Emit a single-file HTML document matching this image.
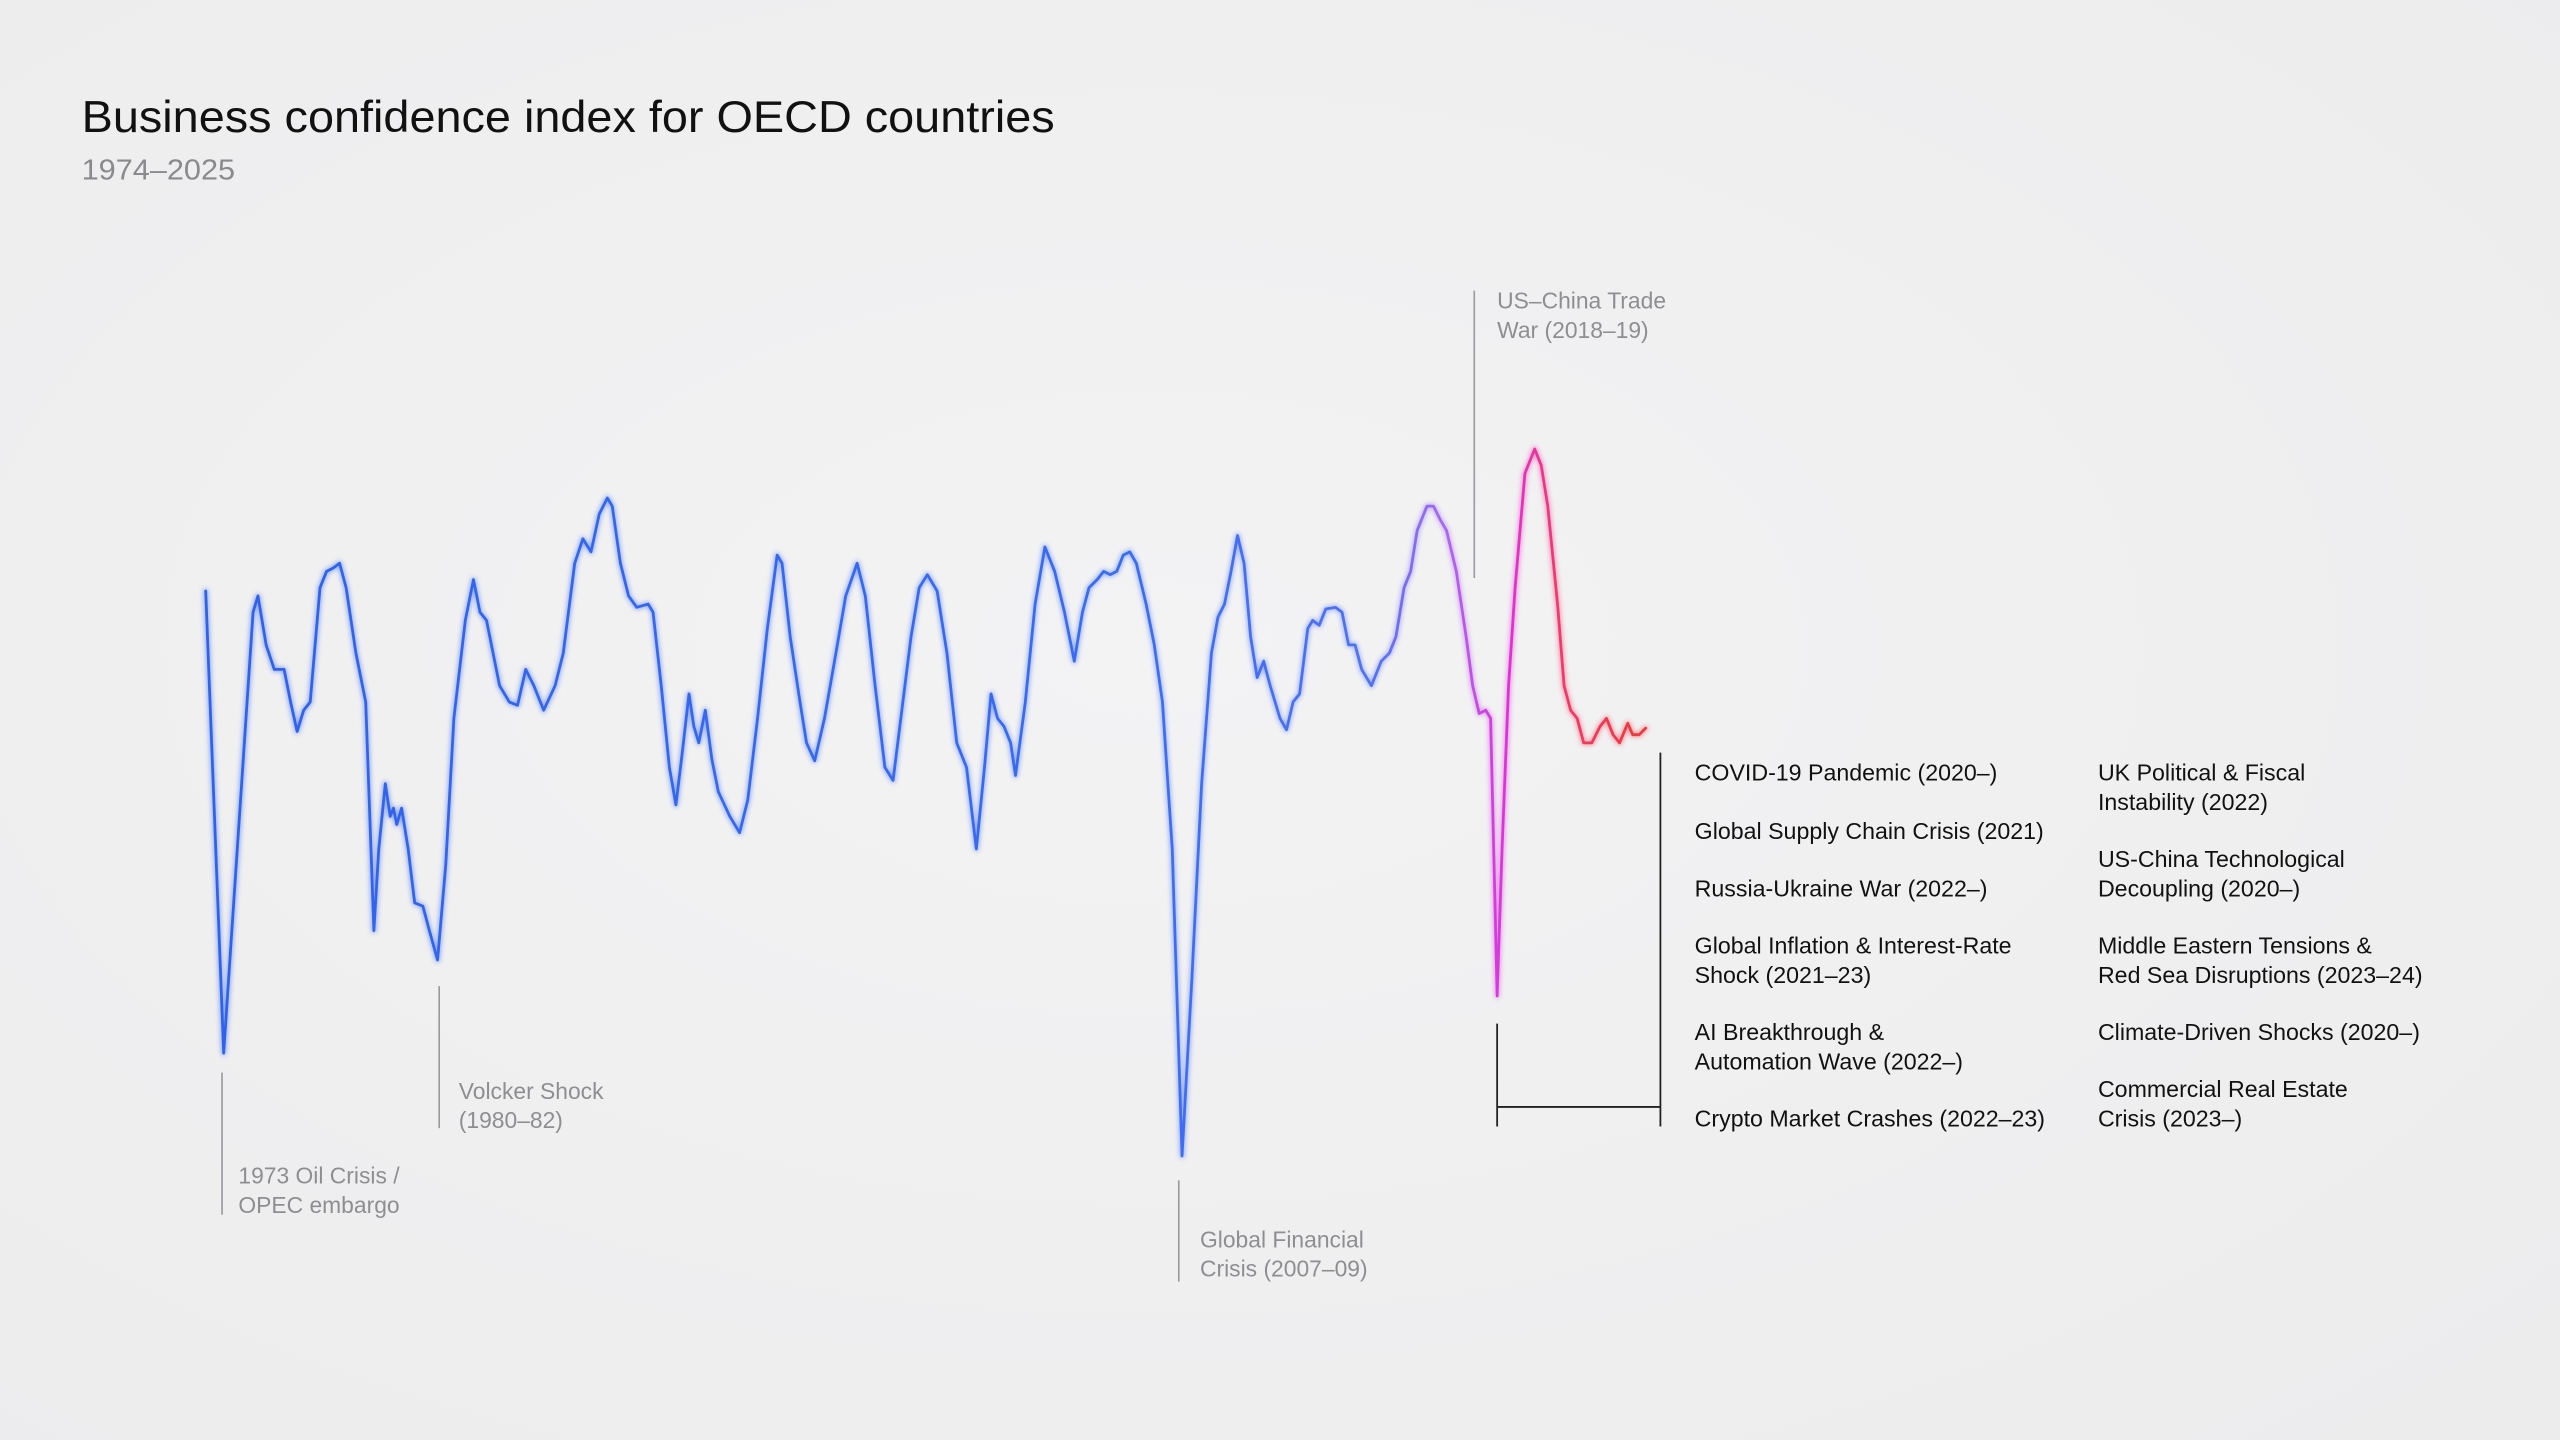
<!DOCTYPE html>
<html><head><meta charset="utf-8"><style>
html,body{margin:0;padding:0;background:#f2f2f3;}
svg{display:block;}
text{font-family:"Liberation Sans",sans-serif;}
</style></head><body>
<svg width="2560" height="1440" viewBox="0 0 1568 882" xmlns="http://www.w3.org/2000/svg">
<defs>
<radialGradient id="bg" cx="0.45" cy="0.45" r="0.75">
<stop offset="0" stop-color="#f3f3f4"/><stop offset="1" stop-color="#ececed"/>
</radialGradient>
<linearGradient id="lg" gradientUnits="userSpaceOnUse" x1="126" y1="0" x2="1008" y2="0">
<stop offset="0" stop-color="#2f62ea"/>
<stop offset="0.64" stop-color="#3a6cf0"/>
<stop offset="0.81" stop-color="#4f72f0"/>
<stop offset="0.86" stop-color="#a868f0"/>
<stop offset="0.905" stop-color="#e030d8"/>
<stop offset="0.94" stop-color="#f03a6a"/>
<stop offset="1" stop-color="#ea3b3b"/>
</linearGradient>
<filter id="bl" x="-5%" y="-5%" width="110%" height="110%"><feGaussianBlur stdDeviation="1.4"/></filter>
</defs>
<rect width="1568" height="882" fill="url(#bg)"/>
<text x="50" y="81" font-size="27.5" fill="#111" textLength="596" lengthAdjust="spacingAndGlyphs">Business confidence index for OECD countries</text>
<text x="50" y="110" font-size="17.5" fill="#8a8a8e" textLength="94" lengthAdjust="spacingAndGlyphs">1974–2025</text>

<g stroke="#9a9a9e" stroke-width="1" fill="none">
<line x1="136" y1="657" x2="136" y2="744"/>
<line x1="269" y1="604" x2="269" y2="691"/>
<line x1="722" y1="723" x2="722" y2="785"/>
<line x1="903" y1="178" x2="903" y2="354"/>
</g>
<g font-size="14" fill="#8e8e92">
<text x="146" y="725">1973 Oil Crisis /</text><text x="146" y="743">OPEC embargo</text>
<text x="281" y="673">Volcker Shock</text><text x="281" y="691">(1980–82)</text>
<text x="735" y="764">Global Financial</text><text x="735" y="782">Crisis (2007–09)</text>
<text x="917" y="189">US–China Trade</text><text x="917" y="207">War (2018–19)</text>
</g>
<g stroke="#222" stroke-width="1.1" fill="none">
<line x1="917" y1="627" x2="917" y2="690"/>
<line x1="917" y1="678" x2="1017" y2="678"/>
<line x1="1017" y1="461" x2="1017" y2="690"/>
</g>
<g font-size="14.2" fill="#111">
<text x="1038" y="478">COVID-19 Pandemic (2020–)</text>
<text x="1038" y="514">Global Supply Chain Crisis (2021)</text>
<text x="1038" y="549">Russia-Ukraine War (2022–)</text>
<text x="1038" y="584">Global Inflation &amp; Interest-Rate</text><text x="1038" y="602">Shock (2021–23)</text>
<text x="1038" y="637">AI Breakthrough &amp;</text><text x="1038" y="655">Automation Wave (2022–)</text>
<text x="1038" y="690">Crypto Market Crashes (2022–23)</text>
<text x="1285" y="478">UK Political &amp; Fiscal</text><text x="1285" y="496">Instability (2022)</text>
<text x="1285" y="531">US-China Technological</text><text x="1285" y="549">Decoupling (2020–)</text>
<text x="1285" y="584">Middle Eastern Tensions &amp;</text><text x="1285" y="602">Red Sea Disruptions (2023–24)</text>
<text x="1285" y="637">Climate-Driven Shocks (2020–)</text>
<text x="1285" y="672">Commercial Real Estate</text><text x="1285" y="690">Crisis (2023–)</text>
</g>
<g fill="none" stroke="url(#lg)" stroke-linejoin="round" stroke-linecap="round">
<polyline filter="url(#bl)" stroke-width="3" opacity="0.5" points="126,362 137,645 148,480 155,375 158,365 163,395 168,410 174,410 178,430 182,448 186,435 190,430 196,360 200,350 204,348 208,345 212,360 218,400 224,430 229,570 232,520 236,480 239,500 241,495 243,505 246,495 250,520 254,553 259,555 263,570 268,588 273,530 278,440 285,380 290,355 294,375 298,380 302,400 306,420 312,430 317,432 322,410 327,420 333,435 340,420 345,400 352,345 357,330 362,338 367,315 372,305 375,310 380,345 385,365 390,372 397,370 400,375 405,420 410,470 414,493 418,460 422,425 425,445 428,455 432,435 436,465 440,485 447,500 453,510 458,490 464,440 470,385 476,340 479,345 484,390 490,430 494,455 499,466 505,440 512,400 518,365 525,345 530,365 536,420 542,470 547,478 553,430 558,390 563,360 568,352 574,362 580,400 586,455 592,470 598,520 603,470 607,425 611,440 615,445 619,455 622,475 628,430 634,370 640,335 646,350 652,375 658,405 663,375 667,360 672,355 676,350 680,352 684,350 688,340 692,338 696,345 702,370 707,395 712,430 718,520 724,708 730,600 736,480 742,400 746,378 750,370 754,350 758,328 762,345 766,390 770,415 774,405 778,420 784,440 788,447 792,430 796,425 801,385 804,380 808,383 812,373 818,372 822,375 826,395 830,395 834,410 840,420 846,405 851,400 855,390 860,360 864,350 868,325 874,310 878,310 882,318 886,325 892,350 898,390 902,420 906,437 910,435 913,440 917,610 920,520 924,420 928,360 934,290 940,275 944,285 948,310 954,370 958,420 962,435 966,440 970,455 975,455 980,445 984,440 988,450 992,455 997,443 1000,450 1004,450 1008,446"/>
<polyline stroke-width="1.7" points="126,362 137,645 148,480 155,375 158,365 163,395 168,410 174,410 178,430 182,448 186,435 190,430 196,360 200,350 204,348 208,345 212,360 218,400 224,430 229,570 232,520 236,480 239,500 241,495 243,505 246,495 250,520 254,553 259,555 263,570 268,588 273,530 278,440 285,380 290,355 294,375 298,380 302,400 306,420 312,430 317,432 322,410 327,420 333,435 340,420 345,400 352,345 357,330 362,338 367,315 372,305 375,310 380,345 385,365 390,372 397,370 400,375 405,420 410,470 414,493 418,460 422,425 425,445 428,455 432,435 436,465 440,485 447,500 453,510 458,490 464,440 470,385 476,340 479,345 484,390 490,430 494,455 499,466 505,440 512,400 518,365 525,345 530,365 536,420 542,470 547,478 553,430 558,390 563,360 568,352 574,362 580,400 586,455 592,470 598,520 603,470 607,425 611,440 615,445 619,455 622,475 628,430 634,370 640,335 646,350 652,375 658,405 663,375 667,360 672,355 676,350 680,352 684,350 688,340 692,338 696,345 702,370 707,395 712,430 718,520 724,708 730,600 736,480 742,400 746,378 750,370 754,350 758,328 762,345 766,390 770,415 774,405 778,420 784,440 788,447 792,430 796,425 801,385 804,380 808,383 812,373 818,372 822,375 826,395 830,395 834,410 840,420 846,405 851,400 855,390 860,360 864,350 868,325 874,310 878,310 882,318 886,325 892,350 898,390 902,420 906,437 910,435 913,440 917,610 920,520 924,420 928,360 934,290 940,275 944,285 948,310 954,370 958,420 962,435 966,440 970,455 975,455 980,445 984,440 988,450 992,455 997,443 1000,450 1004,450 1008,446"/>
</g>
</svg>
</body></html>
